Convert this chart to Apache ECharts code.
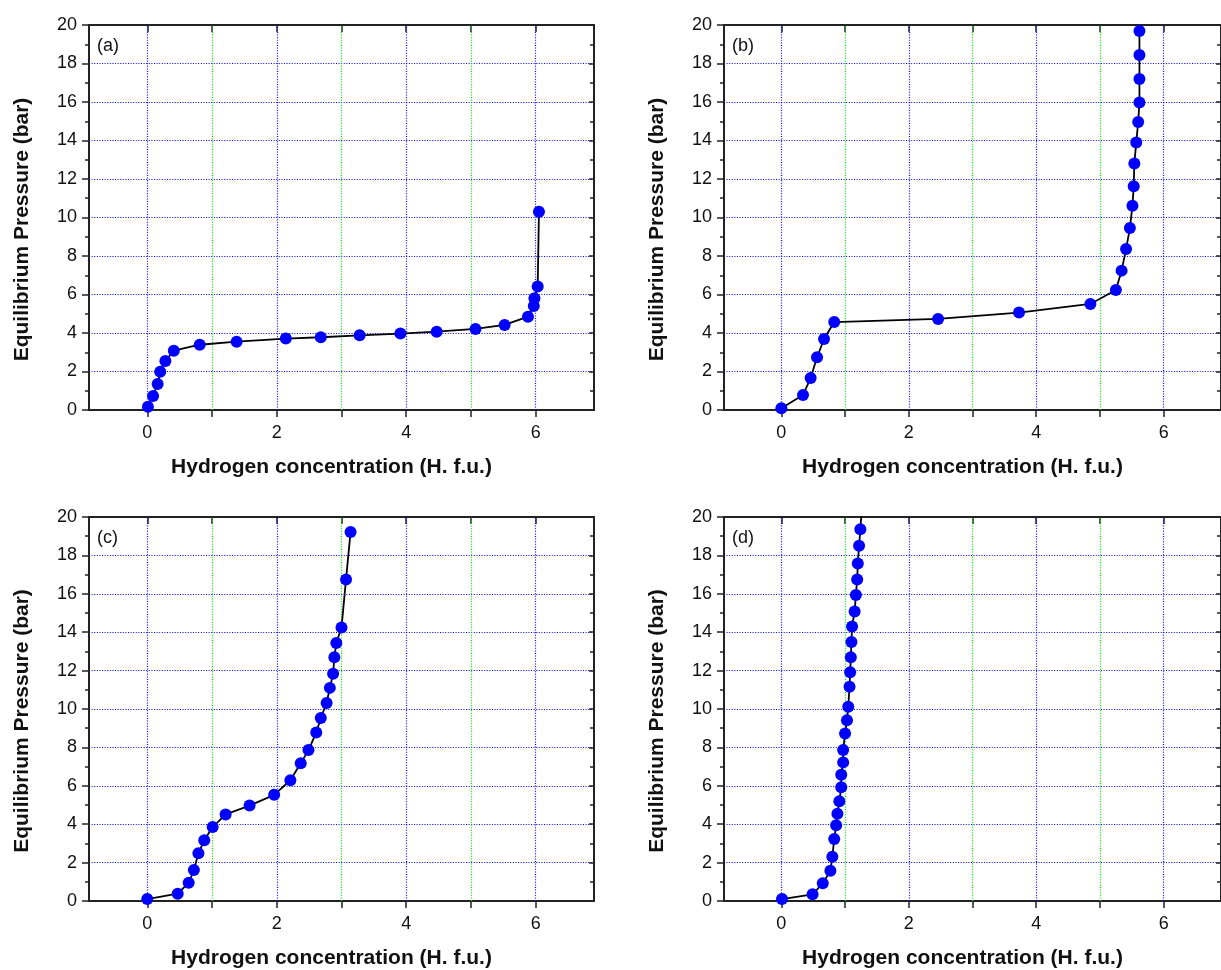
<!DOCTYPE html>
<html>
<head>
<meta charset="utf-8">
<script src="https://cdn.jsdelivr.net/npm/echarts@6/dist/echarts.min.js"></script>
<style>html,body{margin:0;padding:0;background:#fff}#c{width:1221px;height:970px}</style>
</head>
<body>
<div id="c"></div>
<script>
// ---- data ----
const panelLabels = ['(a)', '(b)', '(c)', '(d)'];
const xTitle = 'Hydrogen concentration (H. f.u.)';
const yTitle = 'Equilibrium Pressure (bar)';
const xTickValues = [0, 1, 2, 3, 4, 5, 6];
const xLabelValues = [0, 2, 4, 6];
const blueGridX = [0, 2, 4, 6];
const greenGridX = [1, 3, 5];

const aH = [0.01, 0.09, 0.16, 0.20, 0.28, 0.41, 0.81, 1.38, 2.14, 2.68, 3.28, 3.91, 4.47, 5.07, 5.52, 5.88, 5.97, 5.98, 6.03, 6.05];
const aP = [0.17, 0.73, 1.35, 1.99, 2.55, 3.08, 3.39, 3.55, 3.71, 3.78, 3.88, 3.97, 4.07, 4.21, 4.42, 4.85, 5.40, 5.80, 6.41, 10.30];

const bH = [0.00, 0.34, 0.46, 0.56, 0.67, 0.83, 2.46, 3.73, 4.85, 5.25, 5.34, 5.41, 5.47, 5.51, 5.53, 5.54, 5.57, 5.60, 5.62, 5.62, 5.62, 5.62];
const bP = [0.09, 0.78, 1.66, 2.74, 3.69, 4.57, 4.73, 5.06, 5.51, 6.23, 7.24, 8.36, 9.45, 10.61, 11.62, 12.81, 13.89, 14.96, 15.97, 17.19, 18.44, 19.69];

const cH = [0.00, 0.47, 0.64, 0.72, 0.79, 0.88, 1.01, 1.21, 1.58, 1.96, 2.21, 2.37, 2.49, 2.61, 2.68, 2.77, 2.82, 2.87, 2.89, 2.92, 3.00, 3.07, 3.14];
const cP = [0.10, 0.38, 0.95, 1.61, 2.49, 3.16, 3.85, 4.51, 4.97, 5.53, 6.29, 7.17, 7.86, 8.77, 9.53, 10.31, 11.10, 11.83, 12.69, 13.44, 14.25, 16.75, 19.22];

const dH = [0.01, 0.49, 0.65, 0.77, 0.80, 0.83, 0.86, 0.88, 0.91, 0.94, 0.94, 0.97, 0.97, 1.00, 1.03, 1.05, 1.07, 1.08, 1.09, 1.10, 1.11, 1.15, 1.17, 1.19, 1.20, 1.22, 1.24, 1.26];
const dP = [0.10, 0.35, 0.92, 1.57, 2.30, 3.23, 3.94, 4.55, 5.20, 5.93, 6.57, 7.22, 7.86, 8.72, 9.41, 10.12, 11.16, 11.92, 12.69, 13.49, 14.30, 15.08, 15.94, 16.75, 17.58, 18.50, 19.36, 20.30];

const panelH = [aH, bH, cH, dH];
const panelP = [aP, bP, cP, dP];

// ---- layout / style ----
const FONT = 'Liberation Sans, Arial, sans-serif';
const boxes = [
  {left: 89, top: 25, width: 505, height: 385},
  {left: 724, top: 25, width: 505, height: 385},
  {left: 89, top: 517, width: 505, height: 386},
  {left: 724, top: 517, width: 505, height: 386}
];
const AX = '#222';
const LBL = '#111';
const BLUE = '#0000ff';
const GREEN = '#00dd00';
const DOT = [1, 1.6];

const grid = [], xAxis = [], yAxis = [], series = [], title = [];
boxes.forEach((b, i) => {
  grid.push({left: b.left, top: b.top, width: b.width, height: b.height, containLabel: false});
  // bottom x
  xAxis.push({
    gridIndex: i, type: 'value', position: 'bottom', min: -0.9, max: 6.9,
    name: xTitle, nameLocation: 'middle', nameGap: 47,
    nameTextStyle: {fontFamily: FONT, fontSize: 21, fontWeight: 'bold', color: LBL, padding: [0, 20, 0, 0]},
    axisLine: {show: true, onZero: false, lineStyle: {color: AX, width: 2}},
    axisTick: {show: true, inside: false, length: 7, customValues: xTickValues, lineStyle: {color: AX, width: 1.5}},
    axisLabel: {show: true, customValues: xLabelValues, margin: 14, fontFamily: FONT, fontSize: 18, color: LBL},
    splitLine: {show: false}
  });
  // top x
  xAxis.push({
    gridIndex: i, type: 'value', position: 'top', min: -0.9, max: 6.9,
    axisLine: {show: true, onZero: false, lineStyle: {color: AX, width: 2}},
    axisTick: {show: true, inside: true, length: 7, customValues: xTickValues, lineStyle: {color: AX, width: 1.5}},
    axisLabel: {show: false},
    splitLine: {show: false}
  });
  // left y
  yAxis.push({
    gridIndex: i, type: 'value', position: 'left', min: 0, max: 20, interval: 2,
    name: yTitle, nameLocation: 'middle', nameRotate: 90, nameGap: 56,
    nameTextStyle: {fontFamily: FONT, fontSize: 21, fontWeight: 'bold', color: LBL, padding: [0, 24, 0, 0]},
    axisLine: {show: true, onZero: false, lineStyle: {color: AX, width: 2}},
    axisTick: {show: true, inside: false, length: 7, lineStyle: {color: AX, width: 1.5}},
    minorTick: {show: true, splitNumber: 2, length: 4, lineStyle: {color: AX, width: 1.5}},
    axisLabel: {show: true, margin: 12, fontFamily: FONT, fontSize: 18, color: LBL},
    splitLine: {show: true, lineStyle: {color: BLUE, width: 1.2, type: DOT}}
  });
  // right y
  yAxis.push({
    gridIndex: i, type: 'value', position: 'right', min: 0, max: 20, interval: 2,
    axisLine: {show: true, onZero: false, lineStyle: {color: AX, width: 2}},
    axisTick: {show: true, inside: true, length: 5, lineStyle: {color: AX, width: 1.5}},
    minorTick: {show: true, splitNumber: 2, length: 4, lineStyle: {color: AX, width: 1.5}},
    axisLabel: {show: false},
    splitLine: {show: false}
  });
  const xi = i * 2, yi = i * 2;
  // vertical dotted grid lines
  series.push({
    type: 'line', xAxisIndex: xi, yAxisIndex: yi, data: [], z: 1, silent: true,
    markLine: {
      silent: true, symbol: ['none', 'none'], label: {show: false}, animation: false,
      data: blueGridX.map(v => ({xAxis: v, lineStyle: {color: BLUE, width: 1.2, type: DOT}}))
        .concat(greenGridX.map(v => ({xAxis: v, lineStyle: {color: GREEN, width: 1.2, type: DOT}})))
    }
  });
  // data
  const H = panelH[i], P = panelP[i];
  series.push({
    type: 'line', xAxisIndex: xi, yAxisIndex: yi, z: 5, clip: true,
    data: H.map((h, k) => [h, P[k]]),
    symbol: 'circle', symbolSize: 12, showSymbol: true,
    itemStyle: {color: '#0000ff', borderWidth: 0},
    lineStyle: {color: '#000', width: 1.8}
  });
  title.push({
    text: panelLabels[i], left: b.left + 8, top: b.top + 12, padding: 0,
    textStyle: {fontFamily: FONT, fontSize: 18, fontWeight: 'normal', color: LBL}
  });
});

const chart = echarts.init(document.getElementById('c'), null, {renderer: 'canvas'});
chart.setOption({animation: false, backgroundColor: '#fff', title, grid, xAxis, yAxis, series});
</script>
</body>
</html>
